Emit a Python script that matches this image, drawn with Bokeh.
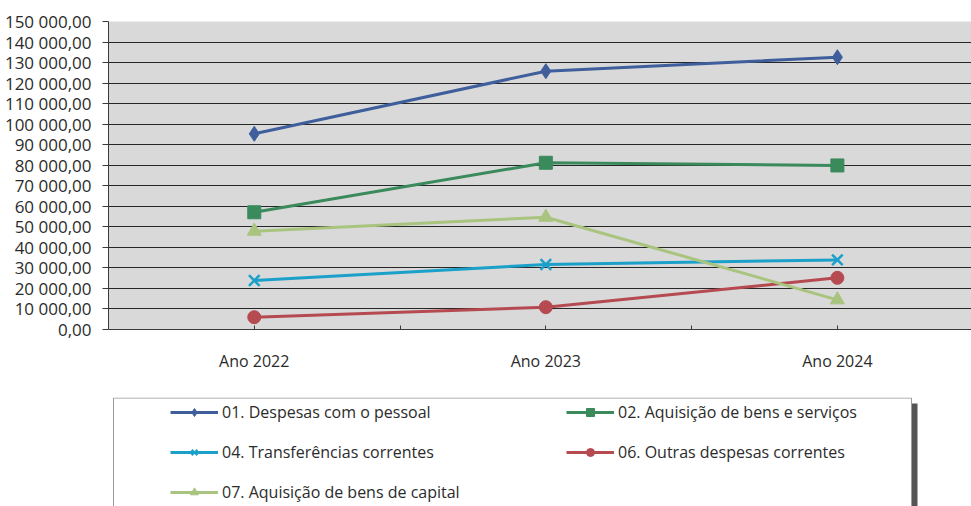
from bokeh.plotting import figure
from bokeh.models import Range1d, FixedTicker, Legend, LegendItem, BoxAnnotation
from bokeh.layouts import column
from bokeh.embed import file_html
from bokeh.resources import INLINE

# ---- data ----
years = ["Ano 2022", "Ano 2023", "Ano 2024"]
s01 = [95300, 125800, 132600]
s02 = [57100, 81200, 79900]
s04 = [23860, 31650, 33900]
s06 = [6000, 10870, 25170]
s07 = [47900, 54700, 14450]
names = [
    "01. Despesas com o pessoal",
    "02. Aquisição de bens e serviços",
    "04. Transferências correntes",
    "06. Outras despesas correntes",
    "07. Aquisição de bens de capital",
]
y_ticks = list(range(0, 150001, 10000))

series = [s01, s02, s04, s06, s07]
colors = ["#3f5e9c", "#3a8a5c", "#1ba0c9", "#b54a50", "#a8c47e"]
markers = ["diamond", "square", "x", "circle", "triangle"]
sizes = [15, 13, 15, 13, 14]

FONT = "Open Sans"
NAN = float("nan")


def fmt(v):
    return f"{v:,.2f}".replace(",", " ").replace(".", ",")


p = figure(width=971, height=397, output_backend="svg", toolbar_location=None,
           x_range=Range1d(-0.5, 2.46), y_range=Range1d(0, 150000),
           min_border_left=108, min_border_right=0, min_border_top=21,
           min_border_bottom=68)
p.background_fill_color = "#d9d9d9"
p.border_fill_color = "white"
p.outline_line_color = None

xs = list(range(len(years)))
for vals, c, m, sz in zip(series, colors, markers, sizes):
    p.line(xs, vals, line_color=c, line_width=3)
    p.scatter(xs, vals, marker=m, size=sz, fill_color=c, line_color=c,
              line_width=2.5 if m == "x" else 1)

p.xgrid.visible = False
p.ygrid.grid_line_color = "#262626"
p.ygrid.grid_line_width = 1

p.yaxis.ticker = FixedTicker(ticks=y_ticks)
p.yaxis.major_label_overrides = {t: fmt(t) for t in y_ticks}
p.yaxis.major_tick_out = 6
p.yaxis.major_tick_in = 0
p.yaxis.minor_tick_out = 0
p.yaxis.minor_tick_in = 0
p.yaxis.major_label_standoff = 11
p.yaxis.axis_line_color = "#3a3a3a"
p.yaxis.major_tick_line_color = "#3a3a3a"
p.yaxis.major_label_text_font_size = "17px"

p.xaxis.ticker = FixedTicker(ticks=xs, minor_ticks=[0.5, 1.5])
p.xaxis.major_label_overrides = {i: y for i, y in enumerate(years)}
p.xaxis.major_tick_in = 4
p.xaxis.major_tick_out = 0
p.xaxis.minor_tick_in = 4
p.xaxis.minor_tick_out = 0
p.xaxis.major_label_standoff = 20
p.xaxis.axis_line_color = "#3a3a3a"
p.xaxis.major_tick_line_color = "#3a3a3a"
p.xaxis.minor_tick_line_color = "#3a3a3a"
p.xaxis.major_label_text_font_size = "16px"

for ax in (p.xaxis, p.yaxis):
    ax.major_label_text_font = FONT
    ax.major_label_text_color = "#2b2b2b"

# ---- legend panel ----
leg = figure(width=971, height=109, output_backend="svg", toolbar_location=None,
             x_range=Range1d(0, 863), y_range=Range1d(0, 109),
             min_border_left=108, min_border_right=0, min_border_top=0,
             min_border_bottom=0, x_axis_type=None, y_axis_type=None)
leg.outline_line_color = None
leg.background_fill_color = "white"
leg.border_fill_color = "white"
leg.grid.visible = False

leg.add_layout(BoxAnnotation(left=803, right=809, bottom=-20, top=103,
                             fill_color="#555555", fill_alpha=1, line_color=None))
leg.add_layout(BoxAnnotation(left=5, right=803, bottom=-20, top=108.5,
                             fill_color="white", fill_alpha=1,
                             line_color="#9a9a9a", line_alpha=1, line_width=1))

items = []
for name, c, m in zip(names, colors, markers):
    r1 = leg.line(x=[NAN], y=[NAN], line_color=c, line_width=3)
    r2 = leg.scatter(x=[NAN], y=[NAN], marker=m, size=10, fill_color=c, line_color=c,
                     line_width=2 if m == "x" else 1)
    items.append(LegendItem(label=name, renderers=[r1, r2]))

legend = Legend(items=items, location=(62, 3), orientation="horizontal", ncols=2,
                label_text_font=FONT, label_text_font_size="16px",
                label_text_color="#2b2b2b", glyph_width=48, glyph_height=20,
                label_height=20, label_width=326, label_standoff=4, spacing=18,
                padding=0, margin=0, border_line_color=None,
                background_fill_alpha=0)
leg.add_layout(legend)

layout = column(p, leg, spacing=0)
open("out.html", "w").write(file_html(layout, INLINE))
